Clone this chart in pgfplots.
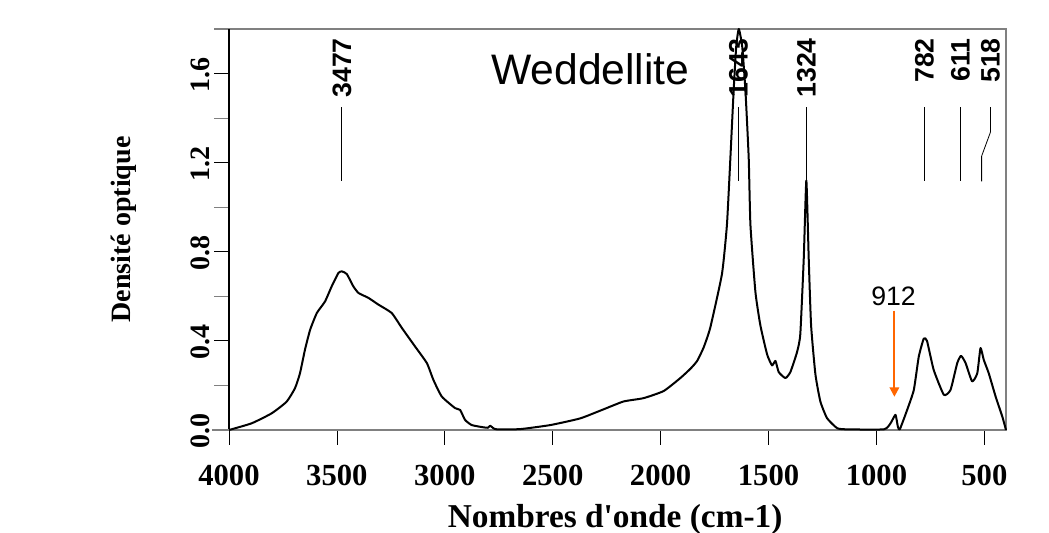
\documentclass[border=0pt]{standalone}
\usepackage{fontspec}
\setmainfont{Liberation Serif}[Ligatures=TeXOff]
\newfontfamily\arial{Liberation Sans}
\usepackage{pgfplots}
\pgfplotsset{compat=1.18}
\usetikzlibrary{arrows.meta,calc}
\definecolor{axgray}{RGB}{128,128,128}
\definecolor{arrorange}{RGB}{255,102,0}

\pgfplotstableread{
w a
4000 0
3895 0.030
3802 0.075
3733 0.127
3694 0.188
3671 0.255
3648 0.360
3624 0.450
3593 0.525
3555 0.577
3524 0.645
3493 0.705
3477 0.712
3454 0.700
3424 0.645
3400 0.615
3354 0.593
3308 0.563
3246 0.525
3199 0.458
3138 0.375
3083 0.300
3053 0.225
3014 0.150
2952 0.098
2929 0.090
2906 0.045
2875 0.022
2821 0.012
2800 0.010
2790 0.019
2775 0.008
2759 0.003
2651 0.004
2512 0.022
2373 0.052
2264 0.093
2172 0.128
2079 0.143
1986 0.175
1909 0.233
1862 0.275
1831 0.310
1801 0.370
1770 0.460
1716 0.700
1693 0.920
1677 1.220
1662 1.520
1650 1.720
1638 1.800
1622 1.720
1607 1.520
1592 1.220
1584 0.920
1561 0.620
1538 0.470
1507 0.340
1484 0.290
1468 0.310
1453 0.260
1422 0.233
1399 0.260
1368 0.350
1353 0.430
1337 0.770
1325 1.120
1314 0.770
1303 0.470
1283 0.250
1260 0.128
1229 0.053
1182 0.008
1136 0.003
966 0.003
935 0.030
912 0.068
901 0.015
892 0.003
858 0.090
827 0.180
804 0.330
781 0.410
766 0.400
735 0.270
688 0.158
657 0.180
626 0.300
608 0.333
587 0.300
557 0.218
533 0.255
518 0.368
503 0.315
480 0.255
448 0.150
417 0.060
400 0.000
}\spectrum

\begin{document}
\begin{tikzpicture}
\begin{axis}[
    name=ax,
    scale only axis,
    width=582.75pt, height=300.75pt,
    xmin=400, xmax=4000, ymin=0, ymax=1.8,
    x dir=reverse,
    axis line style={axgray, line width=0.9pt},
    tick align=outside,
    major tick length=11pt,
    minor tick length=11pt,
    xtick={4000,3500,...,500},
    ytick={0,0.4,...,1.6},
    minor ytick={0.2,0.6,1.0,1.4,1.8},
    xtick pos=bottom, ytick pos=left,
    tick style={black, line width=0.6pt},
    minor tick style={axgray, line width=0.8pt},
    /pgf/number format/assume math mode=true,
    xticklabel={\pgfmathprintnumber[fixed,precision=0,set thousands separator={}]{\tick}},
    yticklabel={\pgfmathprintnumber[fixed,fixed zerofill,precision=1]{\tick}},
    xticklabel style={font=\fontsize{23}{23}\selectfont\bfseries, yshift=-12pt},
    yticklabel style={font=\fontsize{21}{21}\selectfont\bfseries, rotate=90, anchor=south, xshift=-1pt},
    clip=false,
]
\addplot[black, line width=1.5pt, line join=round, smooth, tension=0.3] table[x=w, y=a] {\spectrum};

% left axis drawn black
\draw[black, line width=0.9pt] (rel axis cs:0,0) -- (rel axis cs:0,1);
\draw[axgray, line width=0.9pt] (rel axis cs:-0.022,0) -- (rel axis cs:0,0);

% peak markers
\draw[black, line width=0.6pt] (axis cs:3477,1.449) -- (axis cs:3477,1.116);
\draw[black, line width=0.6pt] (axis cs:1640,1.449) -- (axis cs:1640,1.116);
\draw[black, line width=0.6pt] (axis cs:1325,1.449) -- (axis cs:1325,1.116);
\draw[black, line width=0.6pt] (axis cs:778,1.449) -- (axis cs:778,1.116);
\draw[black, line width=0.6pt] (axis cs:611,1.449) -- (axis cs:611,1.116);
\draw[black, line width=0.6pt] (axis cs:472,1.449) -- (axis cs:472,1.337) -- (axis cs:513,1.229) -- (axis cs:513,1.116);

\tikzset{pk/.style={rotate=90, anchor=east, inner sep=0pt, font=\arial\fontsize{20}{20}\selectfont\bfseries}}
\node[pk] at (axis cs:3477,1.76) {3477};
\node[pk] at (axis cs:1640,1.76) {1643};
\node[pk] at (axis cs:1325,1.76) {1324};
\node[pk] at (axis cs:778,1.76) {782};
\node[pk] at (axis cs:611,1.76) {611};
\node[pk] at (axis cs:472,1.76) {518};

\node[font=\arial\fontsize{32}{32}\selectfont] at (axis cs:2326,1.62) {Weddellite};

\draw[arrorange, line width=1.5pt, -{Triangle[width=7pt,length=7pt]}] (axis cs:917,0.536) -- (axis cs:917,0.149);
\node[font=\arial\fontsize{20}{20}\selectfont] at (axis cs:921,0.599) {912};

\node[font=\fontsize{25}{25}\selectfont\bfseries, anchor=base] at (rel axis cs:0.497,-0.244) {Nombres d'onde (cm-1)};
\node[font=\fontsize{21}{21}\selectfont\bfseries, rotate=90] at (rel axis cs:-0.136,0.5) {Densité optique};
\end{axis}
\pgfresetboundingbox
\path[use as bounding box] ($(ax.south west)+(-171.75pt,-77.25pt)$) rectangle ($(ax.north east)+(32.25pt,21.75pt)$);
\end{tikzpicture}
\end{document}
